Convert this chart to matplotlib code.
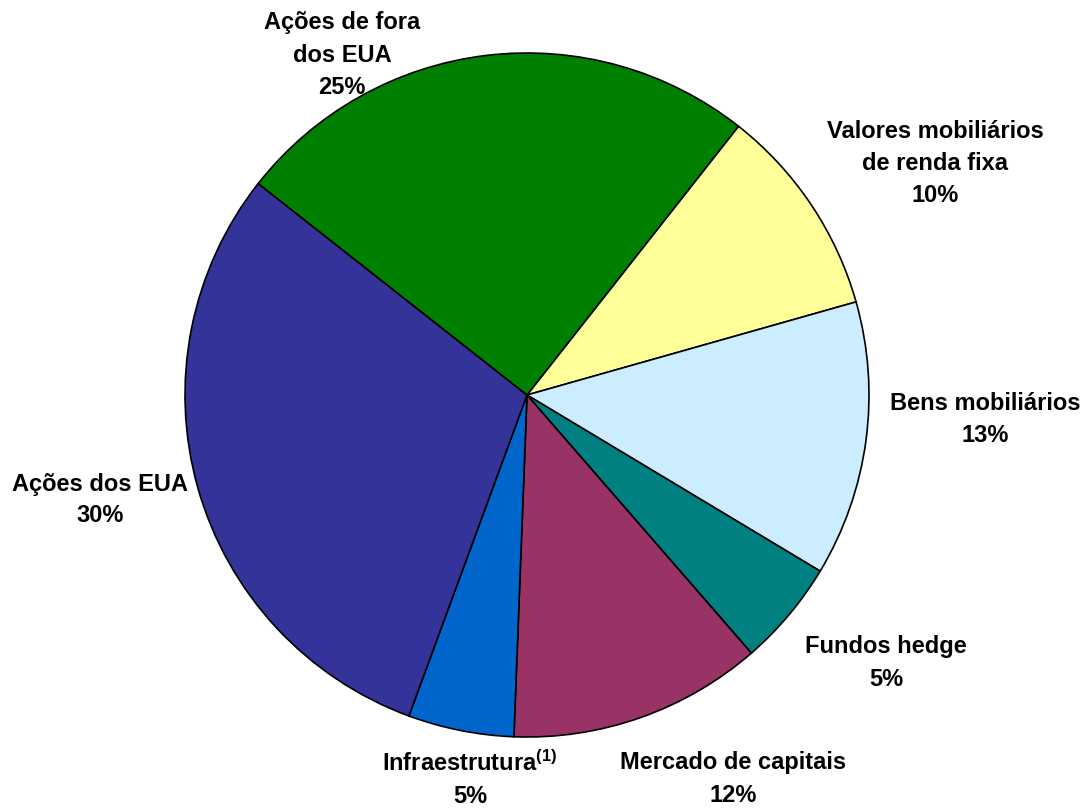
import matplotlib
matplotlib.use("Agg")
import matplotlib.pyplot as plt

# slice order clockwise, starting at the upper right edge of the green slice
labels = ["Valores mobiliários\nde renda fixa", "Bens mobiliários", "Fundos hedge",
          "Mercado de capitais", "Infraestrutura$^{(1)}$", "Ações dos EUA",
          "Ações de fora\ndos EUA"]
shares = [10, 13, 5, 12, 5, 30, 25]
colors = ["#FFFF99", "#CCECFF", "#008080", "#993366", "#0066CC", "#333399", "#008000"]

# label centres in pixels (x, y from top) of the 1083x808 picture
label_pos = [(935, 163), (985, 420), (886, 663), (733, 779), (470, 779),
             (100, 500), (342, 55)]

W, H = 1083, 808
cx, cy, R = 527, 395, 342

plt.rcParams['font.family'] = ['Liberation Sans', 'DejaVu Sans']
plt.rcParams['mathtext.fontset'] = 'custom'
plt.rcParams['mathtext.rm'] = 'Liberation Sans:bold'
plt.rcParams['mathtext.default'] = 'rm'

fig = plt.figure(figsize=(W / 100, H / 100), dpi=100)
ax = fig.add_axes([0, 0, 1, 1])
ax.pie(shares, colors=colors, startangle=51.8, counterclock=False,
       radius=1.0, wedgeprops=dict(edgecolor="black", linewidth=1.2))
ax.set_xlim(-cx / R, (W - cx) / R)
ax.set_ylim(-(H - cy) / R, cy / R)
ax.set_aspect("equal")
ax.axis("off")

for name, val, (px, py) in zip(labels, shares, label_pos):
    fig.text(px / W, 1 - py / H, "%s\n%d%%" % (name, val), ha="center", va="center",
             fontsize=17, fontweight="bold", linespacing=1.5)

fig.savefig("out.png", dpi=100)
